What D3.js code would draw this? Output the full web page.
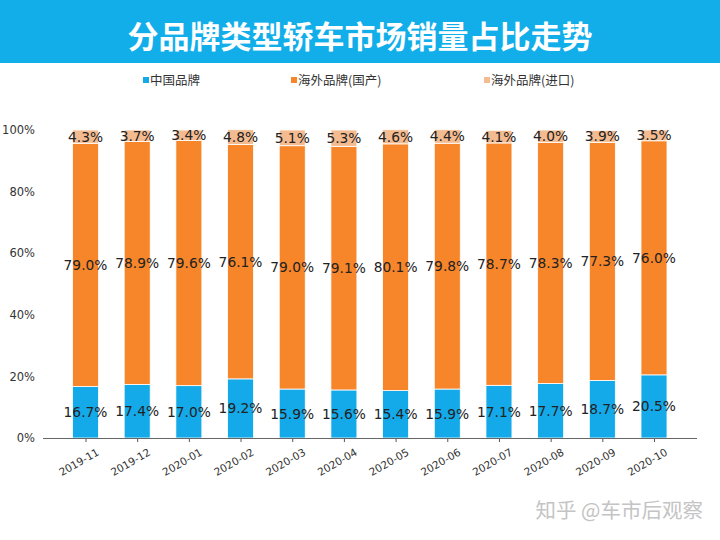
<!DOCTYPE html>
<html><head><meta charset="utf-8">
<script src="https://cdn.jsdelivr.net/npm/d3@7"></script>
<style>body{margin:0;background:#fff}svg{display:block}</style>
</head><body>
<svg id="c" width="720" height="540"></svg>
<script>
const categories = ["2019-11","2019-12","2020-01","2020-02","2020-03","2020-04","2020-05","2020-06","2020-07","2020-08","2020-09","2020-10"];
const chinaBrand = [16.7,17.4,17.0,19.2,15.9,15.6,15.4,15.9,17.1,17.7,18.7,20.5];
const foreignLocal = [79.0,78.9,79.6,76.1,79.0,79.1,80.1,79.8,78.7,78.3,77.3,76.0];
const foreignImport = [4.3,3.7,3.4,4.8,5.1,5.3,4.6,4.4,4.1,4.0,3.9,3.5];
const seriesNames = ["中国品牌","海外品牌(国产)","海外品牌(进口)"];
const yTicks = [0,20,40,60,80,100];
const colors = ["#14a9e8","#f7852a","#f5bb90"];

const svg = d3.select("#c");
const font = "'DejaVu Sans', sans-serif";
const cjk = "'Noto Sans CJK SC', sans-serif";

// title banner
svg.append("rect").attr("x",0).attr("y",0).attr("width",720).attr("height",63).attr("fill","#12aeea");
svg.append("text").attr("x",360).attr("y",48).attr("text-anchor","middle")
  .attr("font-family",cjk).attr("font-weight","bold").attr("font-size",31).attr("fill","#fff")
  .text("分品牌类型轿车市场销量占比走势");

// legend
const legX = [143,291,484];
seriesNames.forEach((n,i)=>{
  svg.append("rect").attr("x",legX[i]).attr("y",77).attr("width",6).attr("height",6).attr("fill",colors[i]);
  svg.append("text").attr("x",legX[i]+7).attr("y",85).attr("font-family",cjk).attr("font-size",12.5)
    .attr("fill","#333").text(n);
});

const x = d3.scalePoint().domain(categories).range([85.5,654]);
const y = d3.scaleLinear().domain([0,100]).range([438,130]);
const bw = 26;

const data = categories.map((c,i)=>({c, v:[chinaBrand[i],foreignLocal[i],foreignImport[i]]}));
const stack = d3.stack().keys([0,1,2]).value((d,k)=>d.v[k]);
const layers = stack(data);

layers.forEach((layer,k)=>{
  svg.append("g").selectAll("rect").data(layer).join("rect")
    .attr("x",d=>x(d.data.c)-bw/2).attr("width",bw)
    .attr("y",d=>y(d[1])).attr("height",d=>y(d[0])-y(d[1]))
    .attr("fill",colors[k]).attr("stroke","#fff").attr("stroke-width",0.8);
});
layers.forEach((layer,k)=>{
  svg.append("g").selectAll("text").data(layer).join("text")
    .attr("x",d=>x(d.data.c)).attr("y",d=>y((d[0]+d[1])/2)+5)
    .attr("text-anchor","middle").attr("font-family",font).attr("font-size",13.8)
    .attr("fill","#222").text(d=>d.data.v[k].toFixed(1)+"%");
});

// y axis labels
const yAxis = d3.axisLeft(y).tickValues(yTicks).tickFormat(d=>d+"%").tickSize(0).tickPadding(0);
const gy = svg.append("g").attr("transform","translate(35,0)").call(yAxis);
gy.select(".domain").remove();
gy.selectAll("text").attr("font-family",font).attr("font-size",11.5).attr("fill","#333");

// x axis
const xAxis = d3.axisBottom(x).tickSize(4).tickPadding(4);
const gx = svg.append("g").attr("transform","translate(0,438)").call(xAxis);
gx.select(".domain").remove();
gx.selectAll("line").attr("stroke","#555");
gx.selectAll("text").attr("font-family",font).attr("font-size",10.5).attr("fill","#333")
  .attr("text-anchor","end").attr("transform","translate(6,3) rotate(-30)");
svg.append("line").attr("x1",43).attr("x2",697).attr("y1",438.5).attr("y2",438.5).attr("stroke","#666").attr("stroke-width",1.2);

// watermark
svg.append("text").attr("x",703).attr("y",518).attr("text-anchor","end").attr("font-family",cjk)
  .attr("font-size",20.5).attr("fill","#c4c4c4").text("知乎 @车市后观察");
</script>
</body></html>
